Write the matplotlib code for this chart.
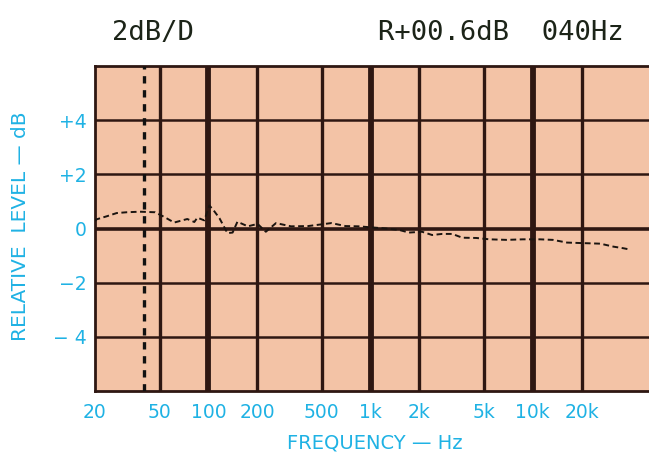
import matplotlib
matplotlib.use("Agg")
import matplotlib.pyplot as plt

# ---- data ----
freq_hz = [20, 20.5, 23.6, 27.2, 31.4, 37.8, 46.9, 53.3, 61.5, 69, 74.1, 81.9, 85.5,
           94.4, 101.4, 107.4, 117, 131, 141, 151, 175, 201, 226, 261, 323, 412,
           573, 700, 842, 1240, 1493, 1722, 2074, 2392, 2761, 3185, 3675, 4490,
           5404, 6897, 8675, 11050, 13300, 16250, 20450, 26070, 31390, 36220, 38370]
level_db = [0.28, 0.34, 0.45, 0.57, 0.60, 0.62, 0.60, 0.43, 0.22, 0.30, 0.35, 0.24, 0.40,
            0.30, 0.85, 0.68, 0.38, -0.17, -0.15, 0.25, 0.08, 0.17, -0.12, 0.20, 0.08, 0.09,
            0.20, 0.09, 0.08, 0.00, -0.05, -0.15, -0.12, -0.24, -0.20, -0.20, -0.34, -0.35,
            -0.40, -0.42, -0.40, -0.40, -0.42, -0.52, -0.54, -0.56, -0.67, -0.73, -0.76]

x_ticks = [20, 50, 100, 200, 500, 1000, 2000, 5000, 10000, 20000]
x_tick_labels = ["20", "50", "100", "200", "500", "1k", "2k", "5k", "10k", "20k"]
y_ticks = [-4, -2, 0, 2, 4]
y_tick_labels = ["\u2212 4", "\u22122", "0", "+2", "+4"]
thick_lines = [100, 1000, 10000]
thin_lines = [50, 200, 500, 2000, 5000, 20000]
marker_freq = 40

header_left = "2dB/D"
header_right = "R+00.6dB  040Hz"

# ---- style ----
paper = "#f3c3a6"
ink = "#2e1712"
cyan = "#1fb2e4"
dark = "#1c2418"

fig = plt.figure(figsize=(6.49, 4.53), dpi=100)
ax = fig.add_axes([95 / 649, 1 - 391 / 453, 1 - 95 / 649, (391 - 66) / 453])
ax.set_facecolor(paper)
ax.set_xscale("log")
ax.set_xlim(20, 52000)
ax.set_ylim(-6, 6)

for f in thick_lines:
    ax.axvline(f, color=ink, lw=4.2, zorder=2)
for f in thin_lines:
    ax.axvline(f, color=ink, lw=2.4, zorder=2)
for y in y_ticks:
    ax.axhline(y, color=ink, lw=2.6 if y == 0 else 1.8, zorder=2)

ax.axvline(marker_freq, color="#111111", lw=2.4, linestyle=(0, (2.2, 2.0)), zorder=3)

ax.plot(freq_hz, level_db, color="#1a1410", lw=1.4, linestyle=(0, (3, 1.8)), zorder=4)

for side in ["left", "top", "bottom"]:
    ax.spines[side].set_color(ink)
    ax.spines[side].set_linewidth(2.0)
ax.spines["right"].set_visible(False)

ax.set_xticks(x_ticks)
ax.set_xticklabels(x_tick_labels)
ax.xaxis.set_minor_locator(matplotlib.ticker.NullLocator())
ax.set_yticks(y_ticks)
ax.set_yticklabels(y_tick_labels)
ax.tick_params(axis="both", length=0, colors=cyan, labelsize=13.5)
ax.tick_params(axis="x", pad=9)
ax.tick_params(axis="y", pad=6)

ax.set_xlabel("FREQUENCY \u2014 Hz", color=cyan, fontsize=14)
ax.xaxis.set_label_coords((375 - 95) / (649 - 95), -(443 - 391) / (391 - 66))
ax.xaxis.label.set_va("center")
ax.set_ylabel("RELATIVE  LEVEL \u2014 dB", color=cyan, fontsize=14.5)
ax.yaxis.set_label_coords(-(95 - 21) / (649 - 95), (391 - 226) / (391 - 66))
ax.yaxis.label.set_va("center")

fig.text(112 / 649, 1 - 33 / 453, header_left, fontsize=19.5,
         family="DejaVu Sans Mono", color=dark, ha="left", va="center")
fig.text(378 / 649, 1 - 33 / 453, header_right, fontsize=19.5,
         family="DejaVu Sans Mono", color=dark, ha="left", va="center")

fig.savefig("out.png", dpi=100, facecolor="white")
